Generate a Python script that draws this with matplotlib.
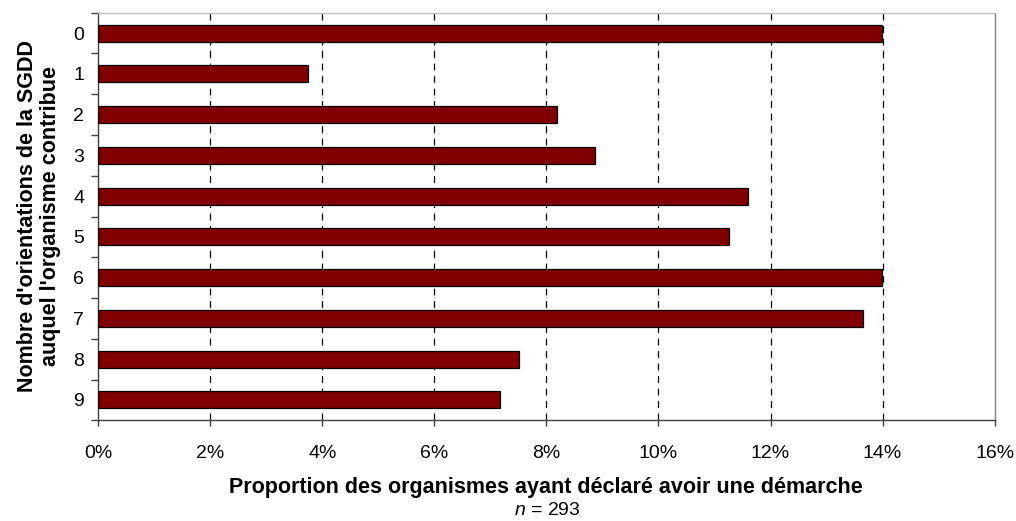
import matplotlib
matplotlib.use("Agg")
import matplotlib.pyplot as plt
from matplotlib.ticker import FixedLocator, FuncFormatter

plt.rcParams['font.family'] = ['Liberation Sans', 'DejaVu Sans']
plt.rcParams['mathtext.fontset'] = 'custom'
plt.rcParams['mathtext.rm'] = 'Liberation Sans'
plt.rcParams['mathtext.it'] = 'Liberation Sans:italic'

categories = ["0", "1", "2", "3", "4", "5", "6", "7", "8", "9"]
# share of organisations (%), n = 293
values = [13.99, 3.75, 8.19, 8.87, 11.60, 11.26, 13.99, 13.65, 7.51, 7.17]
xticks = [0, 2, 4, 6, 8, 10, 12, 14, 16]

fig = plt.figure(figsize=(10.16, 5.21), dpi=100)
ax = fig.add_axes([0.0965, 0.1933, 0.8825, 0.7823])

pos = list(range(len(categories)))
ax.barh(pos, values, height=0.42, color='#800000', edgecolor='black',
        linewidth=0.9, zorder=3)

ax.set_xlim(0, 16)
ax.set_ylim(len(categories) - 0.5, -0.5)

# dashed vertical gridlines (not on the right border)
for x in xticks[1:-1]:
    ax.axvline(x, color='black', linewidth=0.9, dashes=(5.5, 4.5), zorder=1)

ax.set_xticks(xticks)
ax.xaxis.set_major_formatter(FuncFormatter(lambda v, p: f"{v:.0f}%"))
ax.tick_params(axis='x', direction='out', length=4.5, width=1, color='#404040',
               labelsize=14, pad=13)

# y ticks at category boundaries, labels centred on bars
ax.yaxis.set_major_locator(FixedLocator([p - 0.5 for p in pos] + [len(pos) - 0.5]))
ax.yaxis.set_major_formatter(FuncFormatter(lambda v, p: ""))
ax.yaxis.set_minor_locator(FixedLocator(pos))
ax.set_yticklabels(categories, minor=True)
ax.tick_params(axis='y', which='major', direction='out', length=4.7, width=1,
               color='#404040')
ax.tick_params(axis='y', which='minor', length=0, labelsize=14, pad=10)

ax.spines['left'].set_color('#404040')
ax.spines['bottom'].set_color('#404040')
ax.spines['top'].set_color('#c0c0c0')
ax.spines['right'].set_color('#808080')
for s in ax.spines.values():
    s.set_linewidth(1)

ax.set_xlabel("Proportion des organismes ayant déclaré avoir une démarche",
              fontsize=15.5, fontweight='bold', labelpad=11)
fig.text(0.0385, 0.5845,
         "Nombre d'orientations de la SGDD\nauquel l'organisme contribue",
         rotation=90, ha='center', va='center', fontsize=15.5,
         fontweight='bold', linespacing=1.15)
fig.text(0.5384, 0.004, r"$n$ = 293", ha='center', va='bottom', fontsize=14)

fig.savefig("out.png", dpi=100)
